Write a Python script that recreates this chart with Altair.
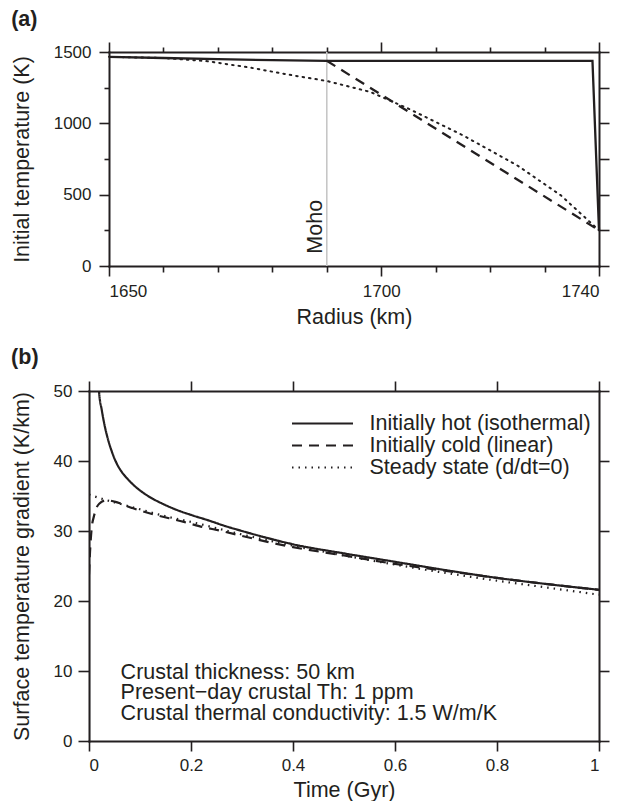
import altair as alt
import pandas as pd

FONT = "Liberation Sans"
INK = "#231f20"

# ---------------- panel (a): initial temperature profiles ----------------
a_hot_radius = [1650, 1660, 1670, 1680, 1690, 1738.8, 1740]
a_hot_temp = [1466, 1458, 1450, 1443, 1438, 1438, 250]
a_cold_radius = [1690, 1740]
a_cold_temp = [1438, 250]
a_steady_radius = [1650, 1660, 1668, 1676, 1683, 1690, 1698, 1705, 1715, 1725, 1733, 1740]
a_steady_temp = [1466, 1458, 1436, 1390, 1341, 1297, 1220, 1103, 916, 705, 495, 250]
moho_radius = [1690]
moho_label = ["Moho"]
moho_label_temp = [275]

a_x_major = [1650, 1700, 1740]
a_x_minor = [1660, 1670, 1680, 1690, 1710, 1720, 1730]
a_y_major = [0, 500, 1000, 1500]
a_y_minor = [250, 750, 1250]
a_y_all = [0, 250, 500, 750, 1000, 1250, 1500]

# ---------------- panel (b): surface temperature gradient ----------------
series_names = ["Initially hot (isothermal)", "Initially cold (linear)", "Steady state (d/dt=0)"]
b_hot_time = [0, 0.0004, 0.0196, 0.025, 0.03, 0.035, 0.04, 0.046, 0.052, 0.06, 0.07, 0.08,
              0.09, 0.1, 0.118, 0.147, 0.176, 0.2, 0.239, 0.261, 0.3, 0.35, 0.4, 0.5, 0.6,
              0.7, 0.8, 0.9, 1.0]
b_hot_grad = [0, 990, 50, 47.3, 45.3, 43.7, 42.4, 41.1, 40.0, 38.9, 37.9, 37.1,
              36.4, 35.8, 34.9, 33.8, 32.9, 32.3, 31.4, 30.85, 30.0, 29.0, 28.1, 26.8, 25.6,
              24.4, 23.3, 22.4, 21.6]
b_cold_time = [0, 0.002, 0.005, 0.01, 0.02, 0.035, 0.05, 0.08, 0.12, 0.186, 0.216, 0.26, 0.3,
               0.359, 0.4, 0.5, 0.6, 0.7, 0.8, 0.9, 1.0]
b_cold_grad = [23.8, 27.0, 30.2, 32.2, 33.9, 34.4, 34.2, 33.4, 32.5, 31.3, 30.7, 30.0, 29.3,
               28.3, 27.7, 26.5, 25.3, 24.3, 23.3, 22.4, 21.6]
b_steady_time = [0, 0.03, 0.06, 0.1, 0.15, 0.2, 0.3, 0.4, 0.5, 0.6, 0.7, 0.8, 0.9, 1.0]
b_steady_grad = [35.2, 34.5, 33.9, 33.1, 32.1, 31.3, 29.5, 27.9, 26.5, 25.2, 24.0, 22.9, 21.9, 20.9]

b_x_ticks = [0, 0.2, 0.4, 0.6, 0.8, 1.0]
b_y_ticks = [0, 10, 20, 30, 40, 50]

note_lines = "Crustal thickness: 50 km\nPresent\u2212day crustal Th: 1 ppm\nCrustal thermal conductivity: 1.5 W/m/K"
note_time = [0.062]
note_grad = [8.9]


def axis(orient, values, tick, labels, title=None, fmt=None, label_pad=8, title_pad=10,
         domain=False, offset=0):
    kw = dict(orient=orient, values=values, tickSize=tick, labels=labels, domain=domain,
              grid=False, labelPadding=label_pad, titlePadding=title_pad, title=title,
              offset=offset)
    if fmt:
        kw["format"] = fmt
    return alt.Axis(**kw)


# ---------------- build panel (a) ----------------
# panel (a) plot area is 20 px narrower than panel (b): its x range starts 20 px in
xs_a = alt.Scale(domain=[1650, 1740], range=[20, 510], nice=False, zero=False)
ys_a = alt.Scale(domain=[0, 1500], nice=False, zero=False)

df_hot_a = pd.DataFrame({"r": a_hot_radius, "T": a_hot_temp})
df_cold_a = pd.DataFrame({"r": a_cold_radius, "T": a_cold_temp})
df_steady_a = pd.DataFrame({"r": a_steady_radius, "T": a_steady_temp})
df_moho = pd.DataFrame({"r": moho_radius, "T": moho_label_temp, "label": moho_label})

moho_rule = alt.Chart(df_moho).mark_rule(color="#c6c6c6", strokeWidth=1.6).encode(
    x=alt.X("r:Q", scale=xs_a, axis=axis("top", a_x_minor, 5, False)))
moho_text = alt.Chart(df_moho).mark_text(
    angle=270, align="center", baseline="alphabetic", dy=-4.5,
    font=FONT, fontSize=21.5, color=INK).encode(
    x=alt.X("r:Q", scale=xs_a, axis=None),
    y=alt.Y("T:Q", scale=ys_a, axis=None),
    text="label:N")
hot_a = alt.Chart(df_hot_a).mark_line(color=INK, strokeWidth=2.3).encode(
    x=alt.X("r:Q", scale=xs_a,
            axis=axis("bottom", a_x_major, 10, True, "Radius (km)", fmt="d", label_pad=7,
                      title_pad=7, domain=True)),
    y=alt.Y("T:Q", scale=ys_a,
            axis=axis("left", a_y_major, 10, True, "Initial temperature (K)", fmt="d",
                      label_pad=8, title_pad=20, domain=True, offset=-20)),
    order=alt.Order("r:Q"))
cold_a = alt.Chart(df_cold_a).mark_line(color=INK, strokeWidth=2.3, strokeDash=[10, 7]).encode(
    x=alt.X("r:Q", scale=xs_a, axis=axis("top", a_x_major, 10, False, domain=True)),
    y=alt.Y("T:Q", scale=ys_a, axis=axis("right", a_y_all, 10, False, domain=True)))
steady_a = alt.Chart(df_steady_a).mark_line(color=INK, strokeWidth=2, strokeDash=[1.5, 5],
                                            strokeCap="round").encode(
    x=alt.X("r:Q", scale=xs_a, axis=axis("bottom", a_x_minor, 6, False)),
    y=alt.Y("T:Q", scale=ys_a, axis=axis("left", a_y_minor, 5, False, offset=-20)))

panel_a = alt.layer(moho_rule, moho_text, hot_a, cold_a, steady_a).properties(
    width=510, height=214,
    title=alt.TitleParams("(a)", anchor="start", frame="bounds", offset=10.5, fontSize=21.5,
                          fontWeight="bold", font=FONT, color=INK))

# ---------------- build panel (b) ----------------
xs_b = alt.Scale(domain=[0, 1], nice=False, zero=False)
ys_b = alt.Scale(domain=[0, 50], nice=False, zero=False)

df_b = pd.concat([
    pd.DataFrame({"series": series_names[0], "t": b_hot_time, "g": b_hot_grad}),
    pd.DataFrame({"series": series_names[1], "t": b_cold_time, "g": b_cold_grad}),
    pd.DataFrame({"series": series_names[2], "t": b_steady_time, "g": b_steady_grad}),
], ignore_index=True)
df_note = pd.DataFrame({"t": note_time, "g": note_grad, "label": [note_lines]})

lines_b = alt.Chart(df_b).mark_line(color=INK, strokeWidth=2.2, clip=True,
                                    interpolate="monotone").encode(
    x=alt.X("t:Q", scale=xs_b,
            axis=axis("bottom", b_x_ticks, 10, True, "Time (Gyr)", fmt="~g", label_pad=6,
                      title_pad=6, domain=True)),
    y=alt.Y("g:Q", scale=ys_b,
            axis=axis("left", b_y_ticks, 11, True, "Surface temperature gradient (K/km)",
                      label_pad=6, title_pad=20, domain=True)),
    strokeDash=alt.StrokeDash(
        "series:N",
        scale=alt.Scale(domain=series_names, range=[[1, 0], [10, 7], [1.5, 5]]),
        legend=alt.Legend(title=None, orient="none", legendX=202, legendY=22,
                          symbolType="stroke", symbolSize=3721, symbolStrokeWidth=2,
                          symbolStrokeColor=INK, labelFont=FONT, labelFontSize=21.5,
                          labelColor=INK, labelOffset=15.5, clipHeight=21, rowPadding=0,
                          padding=0, labelLimit=400)),
    order=alt.Order("t:Q"))

note_b = alt.Chart(df_note).mark_text(
    align="left", baseline="alphabetic", lineBreak="\n", lineHeight=20.7,
    font=FONT, fontSize=21.5, color=INK).encode(
    x=alt.X("t:Q", scale=xs_b, axis=axis("top", b_x_ticks, 10, False, domain=True)),
    y=alt.Y("g:Q", scale=ys_b, axis=axis("right", b_y_ticks, 10, False, domain=True)),
    text="label:N")

panel_b = alt.layer(lines_b, note_b).properties(
    width=510, height=350,
    title=alt.TitleParams("(b)", anchor="start", frame="bounds", offset=12, fontSize=21.5,
                          fontWeight="bold", font=FONT, color=INK))

chart = alt.vconcat(panel_a, panel_b, spacing=18).properties(
    padding={"left": 2, "top": 0, "right": 5, "bottom": 0}
).resolve_legend(
    strokeDash="independent"
).configure_view(
    stroke="transparent"
).configure_axis(
    labelFont=FONT, titleFont=FONT, labelFontSize=17, titleFontSize=21.5,
    titleFontWeight="normal", labelColor=INK, titleColor=INK, tickColor=INK, tickWidth=1.6,
    domainColor=INK, domainWidth=2, domainCap="square"
)

chart.save("out.html", embed_options={"renderer": "svg", "actions": False})
